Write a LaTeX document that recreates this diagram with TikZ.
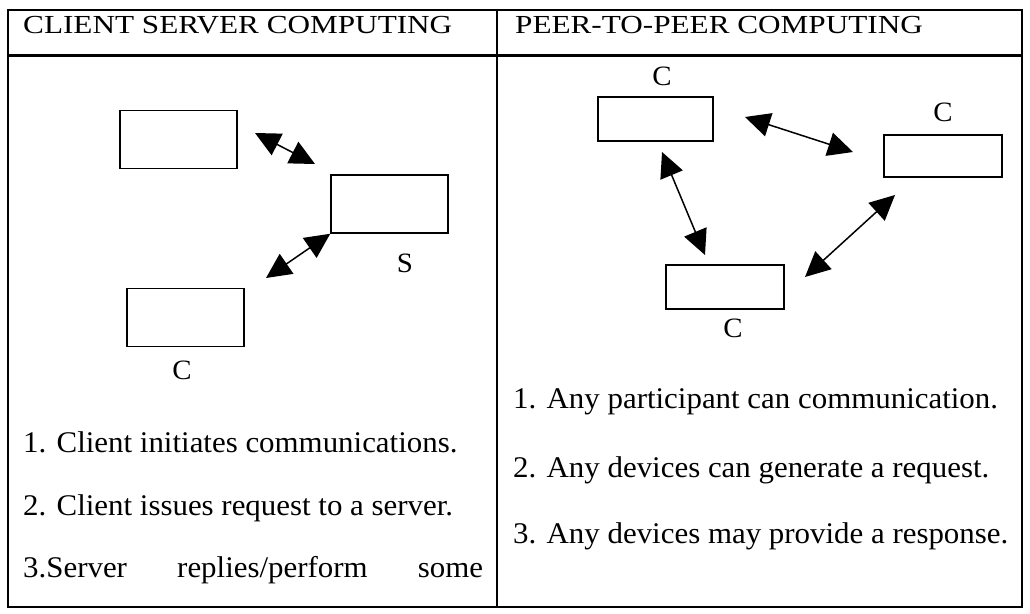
\documentclass[tikz,border=0pt]{standalone}
\usepackage{fontspec}
\setmainfont{Liberation Serif}[FakeStretch=1.03]
\newfontfamily\headfont{Liberation Serif}[FakeStretch=1.2]
\usetikzlibrary{arrows.meta}
\begin{document}
\begin{tikzpicture}
[x=1pt,y=-1pt,
box/.style={draw=black, line width=1.5pt, fill=white, minimum width=117pt, minimum height=58pt, inner sep=0pt},
lbl/.style={inner sep=0pt, font=\fontsize{28}{32}\selectfont},
txt/.style={inner sep=0pt, anchor=base west, font=\fontsize{30}{34}\selectfont},
head/.style={inner sep=0pt, anchor=base west, font=\headfont\fontsize{26}{30}\selectfont},
link/.style={line width=1.5pt, {Triangle[length=25pt,width=24pt]}-{Triangle[length=25pt,width=24pt]}}]
\useasboundingbox (0,0) rectangle (1030,613);
% table frame
\draw [line width=2.5pt] (8,10) rectangle (1022,607);
\draw [line width=3pt] (8,55) -- (1022,55);
\draw [line width=2pt] (497,10) -- (497,607);
\node[head] (h1) at (23,33) {CLIENT SERVER COMPUTING};
\node[head] (h2) at (515,33) {PEER-TO-PEER COMPUTING};
% client server
\node[box] (c1) at (178.5,139.5) {};
\node[box] (s) at (389.5,204) {};
\node[box] (c2) at (185.5,317.5) {};
\node[lbl] (sl) at (405,263) {S};
\node[lbl] (cl) at (182,370) {C};
\coordinate (a1) at (255,133);
\coordinate (a2) at (315,164);
\coordinate (a3) at (266,278);
\draw [link] (a1) -- (a2);
\draw [link] (a3) -- (s.south west);
% peer to peer
\node[box, minimum width=115pt, minimum height=44pt] (p1) at (655.5,119) {};
\node[box, minimum width=118pt, minimum height=42pt] (p2) at (943,156) {};
\node[box, minimum width=118pt, minimum height=44pt] (p3) at (725,287) {};
\node[lbl] (pl1) at (662,76) {C};
\node[lbl] (pl2) at (943,112) {C};
\node[lbl] (pl3) at (733,328) {C};
\coordinate (b1) at (745,117);
\coordinate (b2) at (853,152);
\coordinate (b3) at (662,152);
\coordinate (b4) at (705,255);
\coordinate (b5) at (805,277);
\coordinate (b6) at (895,195);
\draw [link] (b1) -- (b2);
\draw [link] (b3) -- (b4);
\draw [link] (b5) -- (b6);
% notes
\node[txt] (n1) at (23,452) {1. Client initiates communications.};
\node[txt] (n2) at (23,515) {2. Client issues request to a server.};
\node[txt] (n3) at (23,577) {\hbox to 460pt{3.Server\hfill replies/perform\hfill some}};
\node[txt] (m1) at (513,408) {1. Any participant can communication.};
\node[txt] (m2) at (513,477) {2. Any devices can generate a request.};
\node[txt] (m3) at (513,543) {3. Any devices may provide a response.};
\end{tikzpicture}
\end{document}
